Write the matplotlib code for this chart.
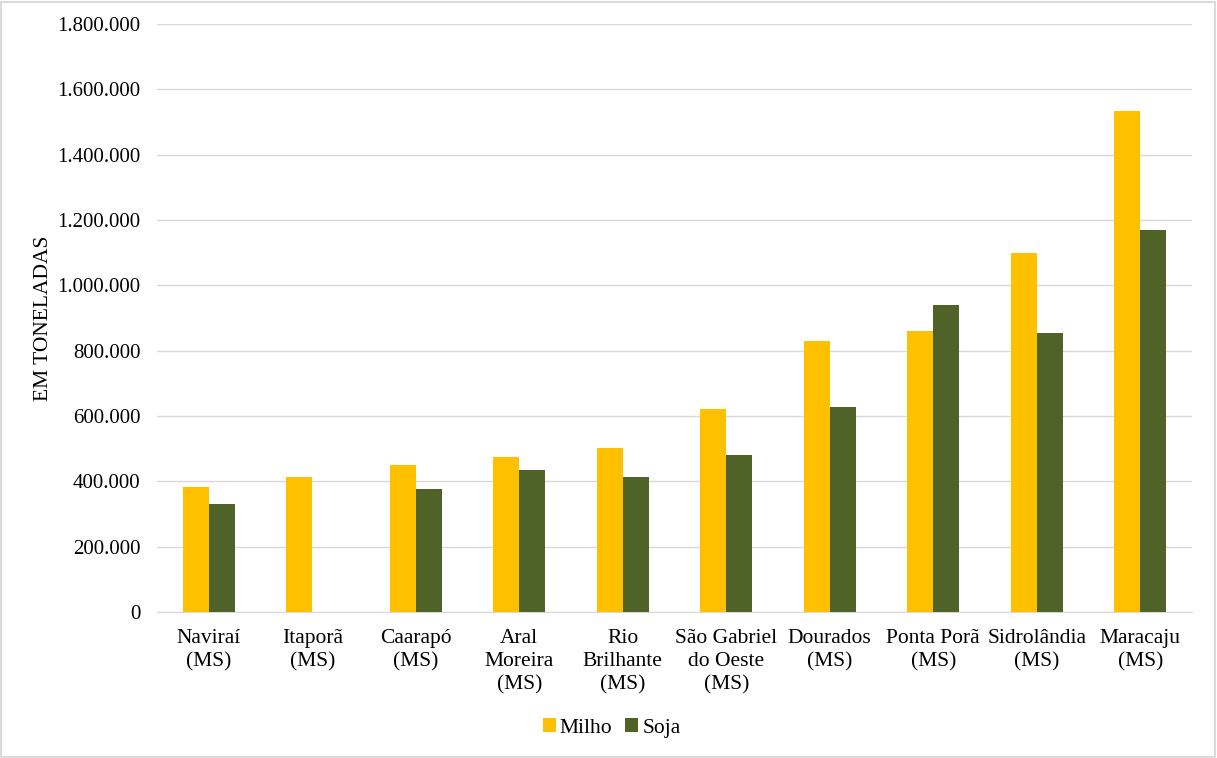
import matplotlib
matplotlib.use("Agg")
import matplotlib.pyplot as plt
import numpy as np
from matplotlib.patches import Rectangle
from matplotlib.ticker import FuncFormatter

plt.rcParams["font.family"] = ["Liberation Serif", "DejaVu Serif"]

municipios = ["Naviraí\n(MS)", "Itaporã\n(MS)", "Caarapó\n(MS)", "Aral\nMoreira\n(MS)",
              "Rio\nBrilhante\n(MS)", "São Gabriel\ndo Oeste\n(MS)", "Dourados\n(MS)",
              "Ponta Porã\n(MS)", "Sidrolândia\n(MS)", "Maracaju\n(MS)"]
milho = [383000, 414000, 451000, 475000, 503000, 620000, 829000, 859000, 1099000, 1535000]
soja = [331000, 0, 377000, 435000, 414000, 481000, 629000, 939000, 853000, 1169000]

fig = plt.figure(figsize=(12.17, 7.58), dpi=100)
ax = fig.add_axes([0.129, 0.1926, 0.8505, 0.7757])

x = np.arange(len(municipios))
w = 0.25
ax.bar(x - w/2, milho, w, color="#FFC000", label="Milho", zorder=3)
ax.bar(x + w/2, soja, w, color="#4F6228", label="Soja", zorder=3)

ax.set_xlim(-0.5, len(municipios) - 0.5)
ax.set_ylim(0, 1800000)
ax.set_yticks(np.arange(0, 1800001, 200000))
ax.yaxis.set_major_formatter(FuncFormatter(lambda v, p: f"{int(v):,}".replace(",", ".")))
ax.set_xticks(x)
ax.set_xticklabels(municipios, fontsize=15.5, linespacing=1.3)
ax.tick_params(axis="y", labelsize=15, length=0, pad=12)
ax.tick_params(axis="x", length=0, pad=12)
ax.grid(axis="y", color="#d9d9d9", linewidth=1, zorder=0)
for s in ["top", "right", "left"]:
    ax.spines[s].set_visible(False)
ax.spines["bottom"].set_color("#d9d9d9")

ax.set_ylabel("EM TONELADAS", fontsize=15.5)
ax.yaxis.set_label_coords(-0.1, 0.5)

ax.legend(loc="center", bbox_to_anchor=(0.5027, 30 / 758), bbox_transform=fig.transFigure,
          ncol=2, frameon=False, fontsize=15.5, handlelength=0.6, handleheight=0.6,
          handletextpad=0.2, columnspacing=0.6)

fig.patches.append(Rectangle((0.001, 0.001), 0.997, 0.997, transform=fig.transFigure,
                             fill=False, edgecolor="#d9d9d9", linewidth=1.5))

fig.savefig("out.png", dpi=100)
